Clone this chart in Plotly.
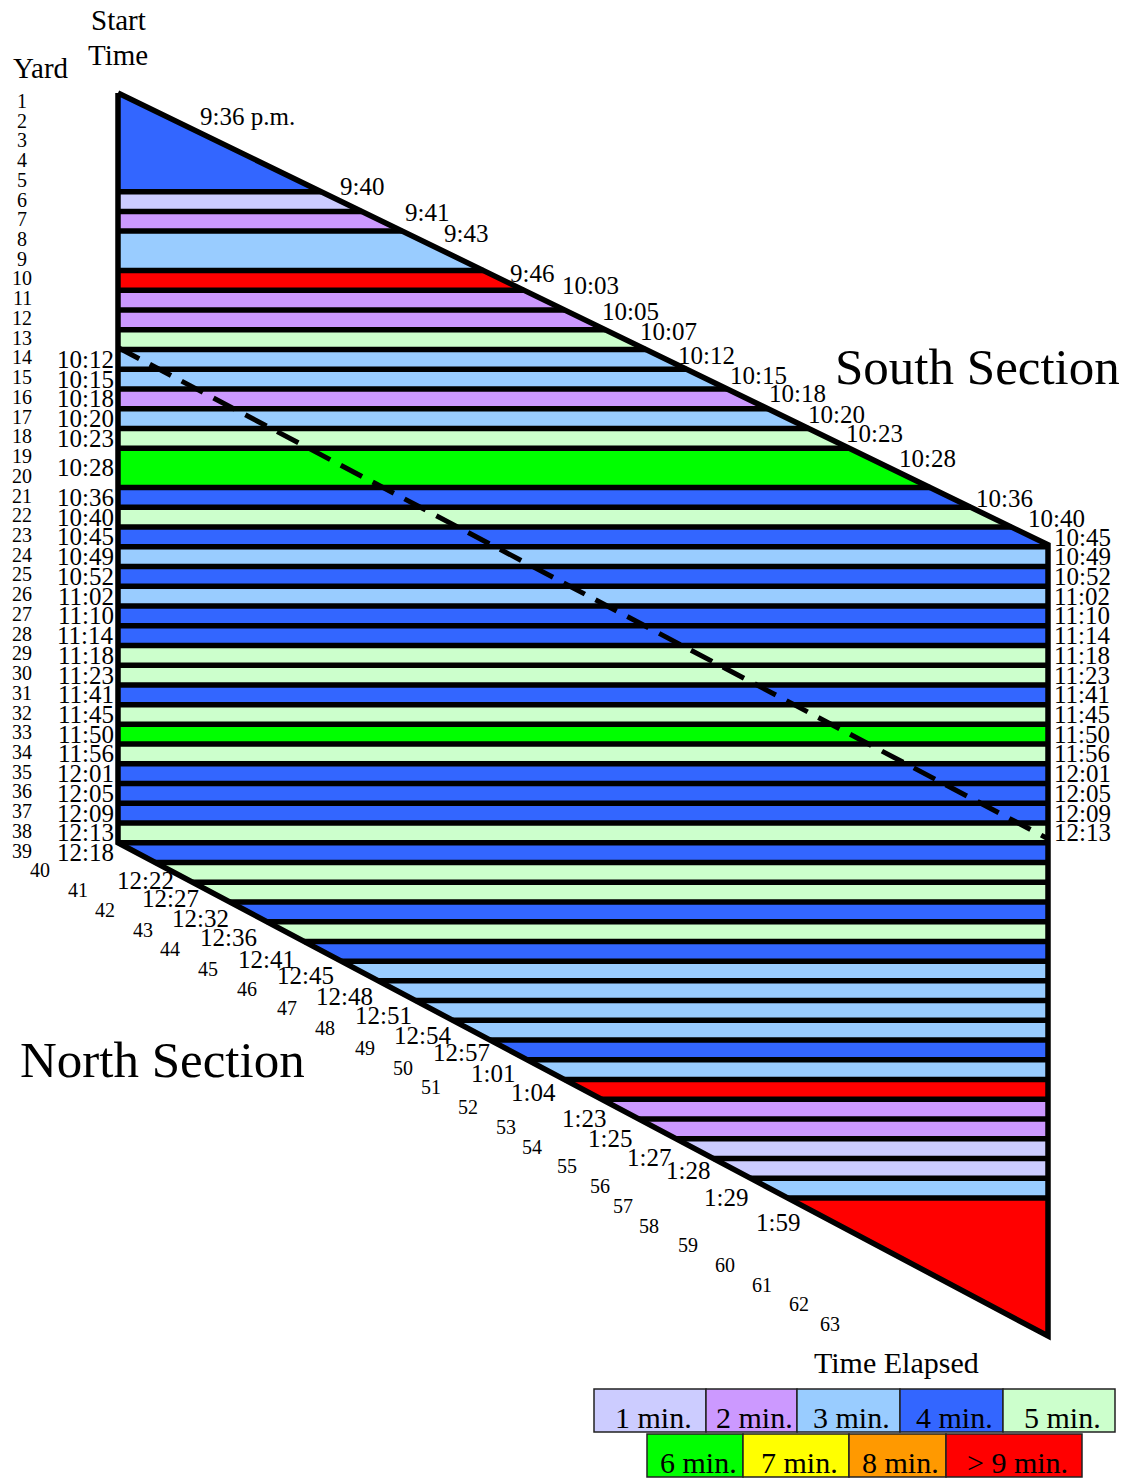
import plotly.graph_objects as go

# ---------------- data ----------------
band_first_yard = [1, 6, 7, 8, 10, 11, 12, 13, 14, 15, 16, 17, 18, 19,
                   21, 22, 23, 24, 25, 26, 27, 28, 29, 30, 31, 32, 33, 34, 35, 36, 37, 38,
                   39, 40, 41, 42, 43, 44, 45, 46, 47, 48, 49, 50, 51, 52, 53, 54, 55, 56, 57]
band_start_time = ["9:36 p.m.", "9:40", "9:41", "9:43", "9:46", "10:03", "10:05", "10:07", "10:12",
                   "10:15", "10:18", "10:20", "10:23", "10:28",
                   "10:36", "10:40", "10:45", "10:49", "10:52", "11:02", "11:10", "11:14", "11:18",
                   "11:23", "11:41", "11:45", "11:50", "11:56", "12:01", "12:05", "12:09", "12:13",
                   "12:18", "12:22", "12:27", "12:32", "12:36", "12:41", "12:45", "12:48", "12:51",
                   "12:54", "12:57", "1:01", "1:04", "1:23", "1:25", "1:27", "1:28", "1:29", "1:59"]
band_elapsed = [4, 1, 2, 3, 9, 2, 2, 5, 3, 3, 2, 3, 5, 6,
                4, 5, 4, 3, 4, 3, 4, 4, 5, 5, 4, 5, 6, 5, 4, 4, 4, 5,
                4, 5, 5, 4, 5, 4, 3, 3, 3, 3, 4, 3, 9, 2, 2, 1, 1, 3, 9]
last_yard = 63
yard_labels = [str(k) for k in range(1, last_yard + 1)]
elapsed_keys = [1, 2, 3, 4, 5, 6, 7, 8, 9]
elapsed_labels = ["1 min.", "2 min.", "3 min.", "4 min.", "5 min.",
                  "6 min.", "7 min.", "8 min.", "> 9 min."]
divider_yard_pos = [12.9, 37.8]   # dashed divider (left edge -> right edge), yard-boundary units

# ---------------- styles / layout ----------------
elapsed_colors = ["#CCCCFF", "#CC99FF", "#99CCFF", "#3366FF", "#CCFFCC",
                  "#00FF00", "#FFFF00", "#FF9900", "#FF0000"]
color_of = dict(zip(elapsed_keys, elapsed_colors))

W, H = 1127, 1479
PLOT_L, PLOT_R, PLOT_T, PLOT_B = 118, 1048, 93, 1336
PAD = 5
TOP_CORNER = 22.9      # where the upper diagonal meets the right edge
LOW_START = 38.0       # where the lower diagonal leaves the left edge
TOTAL = float(last_yard)
FONT = "Liberation Serif, Times New Roman, serif"
LINE_W = 5.5
TIME_SIZE = 25

# label placement (pixel positions of the text centres)
top_diag_label_px = [(247, 117), (362, 186), (427, 212), (466, 233), (532, 273), (590, 286),
                     (630, 311), (668, 332), (706, 355), (758, 375), (797, 394), (836, 414),
                     (874, 433), (927, 459), (1004, 498), (1056, 518), (1082, 537)]
low_diag_label_px = [(145, 880), (170, 898), (200, 918), (228, 937), (266, 959), (305, 975),
                     (344, 996), (383, 1015), (422, 1035), (461, 1052), (493, 1073), (533, 1092),
                     (584, 1118), (610, 1138), (649, 1157), (688, 1170), (726, 1197), (778, 1222)]
lower_yard_px = [40, 78, 105, 143, 170, 208, 247, 287, 325, 365, 403, 431,
                 468, 506, 532, 567, 600, 623, 649, 688, 725, 762, 799, 830]

px_per_x = PLOT_R - PLOT_L
px_per_b = (PLOT_B - PLOT_T) / TOTAL
pad_x = PAD / px_per_x
pad_b = PAD / px_per_b


def PX(px):
    return (px - (PLOT_L - PAD)) / (PLOT_R - PLOT_L + 2 * PAD)


def PY(py):
    return ((PLOT_B + PAD) - py) / (PLOT_B - PLOT_T + 2 * PAD)


def right_x(b):
    return min(b / TOP_CORNER, 1.0)


def left_x(b):
    return max((b - LOW_START) / (TOTAL - LOW_START), 0.0)


def band_polygon(b0, b1):
    brk = sorted(set([b0, b1] + [v for v in (TOP_CORNER, LOW_START) if b0 < v < b1]))
    pts = [(left_x(b), b) for b in brk] + [(right_x(b), b) for b in reversed(brk)]
    pts.append(pts[0])
    return [p[0] for p in pts], [p[1] for p in pts]


fig = go.Figure()

band_bounds = [k - 1 for k in band_first_yard] + [TOTAL]

# colored bands
for i, cat in enumerate(band_elapsed):
    xs, ys = band_polygon(band_bounds[i], band_bounds[i + 1])
    c = color_of[cat]
    fig.add_trace(go.Scatter(x=xs, y=ys, mode="lines", fill="toself", fillcolor=c,
                             line=dict(width=0, color=c), hoverinfo="skip", showlegend=False))

# separator lines
sx, sy = [], []
for b in band_bounds[1:-1]:
    sx += [left_x(b), right_x(b), None]
    sy += [b, b, None]
fig.add_trace(go.Scatter(x=sx, y=sy, mode="lines", line=dict(color="black", width=LINE_W),
                         hoverinfo="skip", showlegend=False))

# outline
fig.add_trace(go.Scatter(x=[0, 1, 1, 0, 0], y=[0, TOP_CORNER, TOTAL, LOW_START, 0], mode="lines",
                         line=dict(color="black", width=LINE_W), hoverinfo="skip", showlegend=False))

# dashed divider
fig.add_trace(go.Scatter(x=[0, 1], y=divider_yard_pos, mode="lines",
                         line=dict(color="black", width=5, dash="24px,12px"),
                         hoverinfo="skip", showlegend=False))

ann = []


def add_text(text, x, y, size, xref="x", yref="y", xanchor="center", yanchor="middle", xshift=0, yshift=0):
    ann.append(dict(text=text, x=x, y=y, xref=xref, yref=yref, showarrow=False,
                    xanchor=xanchor, yanchor=yanchor, xshift=xshift, yshift=yshift,
                    font=dict(family=FONT, size=size, color="black")))


# yard numbers
for k, lab in enumerate(yard_labels, start=1):
    b = k - 0.6
    if k <= 39:
        add_text(lab, 0, b, 20, xshift=22 - PLOT_L)
    else:
        add_text(lab, 0, b, 20, xshift=lower_yard_px[k - 40] - PLOT_L)

# start-time labels
ti = 0
li = 0
for i, t in enumerate(band_start_time):
    k = band_first_yard[i]
    b_top, b_bot = band_bounds[i], band_bounds[i + 1]
    b_mid = (b_top + b_bot) / 2
    if b_top < TOP_CORNER:
        cx, cy = top_diag_label_px[ti]
        ti += 1
        add_text(t, PX(cx), PY(cy), TIME_SIZE, xref="paper", yref="paper")
    elif b_bot <= LOW_START:
        add_text(t, 1, b_mid, TIME_SIZE, xanchor="left", xshift=4)
    if 14 <= k <= 39:
        add_text(t, 0, b_mid, TIME_SIZE, xanchor="right", xshift=-2)
    if k >= 40:
        cx, cy = low_diag_label_px[li]
        li += 1
        add_text(t, PX(cx), PY(cy), TIME_SIZE, xref="paper", yref="paper")

# headings
add_text("Start", PX(118), PY(20), 29, xref="paper", yref="paper")
add_text("Time", PX(118), PY(55), 29, xref="paper", yref="paper")
add_text("Yard", PX(41), PY(68), 29, xref="paper", yref="paper")
add_text("South Section", PX(977), PY(367), 51, xref="paper", yref="paper")
add_text("North Section", PX(162), PY(1060), 51, xref="paper", yref="paper")
add_text("Time Elapsed", PX(896), PY(1362), 30, xref="paper", yref="paper")

# legend boxes
legend_row = [0, 0, 0, 0, 0, 1, 1, 1, 1]
legend_x0 = [594, 706, 797, 900, 1003, 647, 743, 849, 946]
legend_x1 = [706, 797, 900, 1003, 1115, 743, 849, 946, 1082]
row_y = [(1389, 1432), (1434, 1477)]
shapes = []
for i, key in enumerate(elapsed_keys):
    y0, y1 = row_y[legend_row[i]]
    shapes.append(dict(type="rect", xref="paper", yref="paper",
                       x0=PX(legend_x0[i]), x1=PX(legend_x1[i]), y0=PY(y1), y1=PY(y0),
                       fillcolor=color_of[key], line=dict(color="#222222", width=1.5), layer="above"))
    add_text(elapsed_labels[i], PX((legend_x0[i] + legend_x1[i]) / 2 + 3), PY(y0 + 28), 30,
             xref="paper", yref="paper")

fig.update_layout(
    width=W, height=H, autosize=False,
    margin=dict(l=PLOT_L - PAD, r=W - PLOT_R - PAD, t=PLOT_T - PAD, b=H - PLOT_B - PAD, pad=0),
    paper_bgcolor="white", plot_bgcolor="white",
    xaxis=dict(range=[-pad_x, 1 + pad_x], visible=False, fixedrange=True),
    yaxis=dict(range=[TOTAL + pad_b, -pad_b], visible=False, fixedrange=True),
    annotations=ann, shapes=shapes, showlegend=False,
)

fig.write_html("out.html", config={"displayModeBar": False},
               post_script="document.body.style.margin='0';")
